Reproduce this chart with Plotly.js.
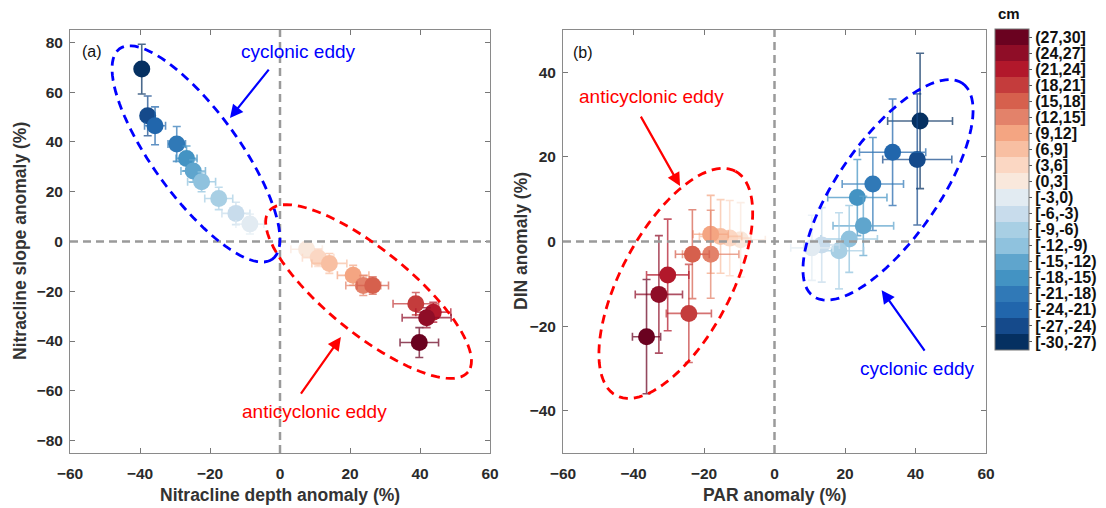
<!DOCTYPE html>
<html><head><meta charset="utf-8">
<script src="https://cdn.plot.ly/plotly-3.0.1.min.js"></script>
<style>html,body{margin:0;padding:0;background:#fff}</style>
</head><body><div id="chart" style="width:1106px;height:508px"></div>
<script>
// ---- DATA ----
const binLabels = ['[-30,-27)','[-27,-24)','[-24,-21)','[-21,-18)','[-18,-15)','[-15,-12)','[-12,-9)','[-9,-6)','[-6,-3)','[-3,0)',
                   '(0,3]','(3,6]','(6,9]','(9,12]','(12,15]','(15,18]','(18,21]','(21,24]','(24,27]','(27,30]'];
const binMid = [-28.5,-25.5,-22.5,-19.5,-16.5,-13.5,-10.5,-7.5,-4.5,-1.5,1.5,4.5,7.5,10.5,13.5,16.5,19.5,22.5,25.5,28.5];
const binColors = ['#053061','#154a8b','#2166ac','#3079b7','#4393c3','#5fa5cd','#8fc2de','#a8cfe4','#c8dcec','#e2ebf2',
                   '#f9e8dc','#fbd7c3','#f8bfa2','#f4a582','#e3826a','#d6604d','#c43c3c','#b2182b','#8f0d27','#6a0220'];

// Panel (a): Nitracline depth anomaly (%) vs Nitracline slope anomaly (%)
const depthAnom    = [-39.5,-37.8,-35.7,-29.5,-26.7,-24.8,-22.4,-17.5,-12.6,-8.6, 7.6,10.9,14.1,20.9,23.8,26.5,38.8,43.8,41.9,39.8];
const slopeAnom    = [69.3,50.5,46.5,39.2,33.4,28.3,24.0,17.3,11.3,7.0, -3.1,-6.5,-8.8,-13.6,-17.7,-17.7,-25.0,-28.4,-30.6,-40.6];
const depthErr     = [1.5,2,3,2.5,3,3.5,4,4,4,4, 4.5,4.5,5,4.5,5,4.5,6.5,5,7,5.5];
const slopeErr     = [10,8,7.6,7,5,4.5,4,4.5,4.5,4, 3,3.5,4,4,4,3.5,4.5,4,4,6];

// Panel (b): PAR anomaly (%) vs DIN anomaly (%)
const parAnom      = [41.3,40.5,33.5,27.9,23.5,25.2,21.2,18.3,13.4,10.6, -9.6,-12.7,-15.3,-18.1,-18.1,-23.3,-24.3,-30.3,-32.8,-36.3];
const dinAnom      = [28.5,19.4,21.1,13.6,10.4,3.7,0.6,-2.2,-0.8,-1.5, 0.4,0.8,1.2,1.7,-3.0,-3.0,-17.0,-7.9,-12.5,-22.5];
const parErr       = [9.2,9.8,9.4,8.7,8.4,8.6,8,7,5,6, 7,6,6,5,8,4.8,6.4,6,6.7,4];
const dinErr       = [16,15.5,12.6,11,9,7,7.9,9,8.8,7.7, 8.8,8.9,8.7,9.2,10.4,10.5,11.6,13.2,13.9,13.5];

const xTicks = [-60,-40,-20,0,20,40,60];
const yTicksA = [-80,-60,-40,-20,0,20,40,60,80];
const yTicksB = [-40,-20,0,20,40];

// ---- LAYOUT GEOMETRY ----
const W = 1106, H = 508;
const FONT = "'Liberation Sans', Arial, sans-serif";
const axA = {x0:70, x1:490}, axB = {x0:563, x1:986}, yPx = {top:30, bot:453};
const rangeXA=[-60,60], rangeYA=[-85,85], rangeXB=[-60,60], rangeYB=[-50,50];
const sxA = (axA.x1-axA.x0)/(rangeXA[1]-rangeXA[0]), syA = (yPx.bot-yPx.top)/(rangeYA[1]-rangeYA[0]);
const sxB = (axB.x1-axB.x0)/(rangeXB[1]-rangeXB[0]), syB = (yPx.bot-yPx.top)/(rangeYB[1]-rangeYB[0]);

function rgba(hex, a){
  const n = parseInt(hex.slice(1),16);
  return 'rgba('+((n>>16)&255)+','+((n>>8)&255)+','+(n&255)+','+a+')';
}

const traces = [];
function addPanel(xs, ys, exs, eys, xa, ya){
  for(let i=0;i<xs.length;i++){
    const ec = rgba(binColors[i], 0.72);
    traces.push({type:'scatter', mode:'markers', x:[xs[i]], y:[ys[i]], xaxis:xa, yaxis:ya,
      marker:{size:17, color:binColors[i], line:{width:0}},
      error_x:{type:'data', array:[exs[i]], visible:true, color:ec, thickness:1.6, width:4},
      error_y:{type:'data', array:[eys[i]], visible:true, color:ec, thickness:1.6, width:4},
      name:binLabels[i], showlegend:false});
  }
}
addPanel(depthAnom, slopeAnom, depthErr, slopeErr, 'x', 'y');
addPanel(parAnom, dinAnom, parErr, dinErr, 'x2', 'y2');

// colorbar carrier (off-range point)
const cs = [];
binColors.forEach((c,i)=>{ cs.push([i/20, c]); cs.push([(i+1)/20, c]); });
traces.push({type:'scatter', mode:'markers', x:[0], y:[-500], xaxis:'x', yaxis:'y', hoverinfo:'skip', showlegend:false,
  marker:{size:1, color:[0], cmin:-30, cmax:30, colorscale:cs, showscale:true,
    colorbar:{thickness:34, thicknessmode:'pixels', len:321, lenmode:'pixels',
      x:995/W, xanchor:'left', y:1-29/H, yanchor:'top', xpad:0, ypad:0,
      outlinewidth:1, outlinecolor:'#777', tickvals:binMid, ticktext:binLabels,
      ticks:'outside', ticklen:3, tickcolor:'#555',
      tickfont:{family:FONT, size:16, color:'#111', weight:'bold'}}}});

// ellipse (decoration) path from centre (data), semi-axes (px), screen angle
function ellipsePath(cx, cy, a, b, deg, sx, sy){
  const th = deg*Math.PI/180, pts=[];
  for(let k=0;k<=96;k++){
    const t = 2*Math.PI*k/96;
    const dx = a*Math.cos(t)*Math.cos(th) - b*Math.sin(t)*Math.sin(th);
    const dy = a*Math.cos(t)*Math.sin(th) + b*Math.sin(t)*Math.cos(th);
    pts.push((cx+dx/sx).toFixed(3)+','+(cy-dy/sy).toFixed(3));
  }
  return 'M'+pts.join('L')+'Z';
}
const ellDash = '9px,6px';
const gline = {color:'#9a9a9a', width:2.5, dash:'8px,5px'};
const shapes = [
  {type:'line', xref:'x', yref:'paper', x0:0, x1:0, y0:1-yPx.bot/H, y1:1-yPx.top/H, line:gline},
  {type:'line', xref:'x', yref:'y', x0:-60, x1:60, y0:0, y1:0, line:gline},
  {type:'line', xref:'x2', yref:'paper', x0:0, x1:0, y0:1-yPx.bot/H, y1:1-yPx.top/H, line:gline},
  {type:'line', xref:'x2', yref:'y2', x0:-60, x1:60, y0:0, y1:0, line:gline},
  {type:'path', xref:'x', yref:'y', path:ellipsePath(-24.0, 35.2, 130, 43, 54, sxA, syA), line:{color:'#0000ff', width:2.8, dash:ellDash}},
  {type:'path', xref:'x', yref:'y', path:ellipsePath(25.3, -20.1, 128, 42, 39, sxA, syA), line:{color:'#ff0000', width:2.8, dash:ellDash}},
  {type:'path', xref:'x2', yref:'y2', path:ellipsePath(32.2, 12.2, 130, 50, -55, sxB, syB), line:{color:'#0000ff', width:2.8, dash:ellDash}},
  {type:'path', xref:'x2', yref:'y2', path:ellipsePath(-28.0, -9.9, 127, 55, -62, sxB, syB), line:{color:'#ff0000', width:2.8, dash:ellDash}}
];

const tf = {family:FONT, size:15.5, color:'#2a2a2a', weight:'bold'};
function ax(dom, rng, vals, anchor){
  return {domain:dom, range:rng, anchor:anchor, tickvals:vals, ticks:'inside', ticklen:5, tickcolor:'#777',
    showline:true, linecolor:'#8a8a8a', linewidth:1, mirror:'ticks', showgrid:false, zeroline:false,
    tickfont:tf, automargin:false, fixedrange:true};
}
const ydom = [1-yPx.bot/H, 1-yPx.top/H];
const tfont = {family:FONT, size:17.5, color:'#333', weight:'bold'};
function ann(o){ return Object.assign({showarrow:false, xanchor:'center', yanchor:'middle'}, o); }
const layout = {
  width:W, height:H, margin:{l:0,r:0,t:0,b:0}, paper_bgcolor:'#fff', plot_bgcolor:'#fff', showlegend:false,
  font:{family:FONT},
  xaxis: Object.assign(ax([axA.x0/W, axA.x1/W], rangeXA, xTicks, 'y'), {ticklabelstandoff:6}),
  yaxis: Object.assign(ax(ydom, rangeYA, yTicksA, 'x'), {ticklabelstandoff:3}),
  xaxis2: Object.assign(ax([axB.x0/W, axB.x1/W], rangeXB, xTicks, 'y2'), {ticklabelstandoff:6}),
  yaxis2: Object.assign(ax(ydom, rangeYB, yTicksB, 'x2'), {ticklabelstandoff:3}),
  shapes: shapes,
  annotations: [
    // axis titles
    ann({xref:'paper', yref:'paper', x:(axA.x0+axA.x1)/2/W, y:1-495/H, text:'Nitracline depth anomaly (%)', font:tfont}),
    ann({xref:'paper', yref:'paper', x:(axB.x0+axB.x1)/2/W, y:1-495/H, text:'PAR anomaly (%)', font:tfont}),
    ann({xref:'paper', yref:'paper', x:20/W, y:1-241/H, text:'Nitracline slope anomaly (%)', textangle:-90, font:tfont}),
    ann({xref:'paper', yref:'paper', x:521/W, y:1-241/H, text:'DIN anomaly (%)', textangle:-90, font:tfont}),
    // panel labels
    ann({xref:'x', yref:'y', x:-53.7, y:76.2, text:'(a)', font:{family:FONT, size:16, color:'#111'}}),
    ann({xref:'x2', yref:'y2', x:-54.3, y:44.8, text:'(b)', font:{family:FONT, size:16, color:'#111'}}),
    // colorbar unit
    ann({xref:'paper', yref:'paper', x:1009/W, y:1-14/H, text:'cm', font:{family:FONT, size:15, color:'#111', weight:'bold'}}),
    // eddy labels
    ann({xref:'x', yref:'y', x:5.3, y:76.2, text:'cyclonic eddy', font:{family:FONT, size:19, color:'#0000ff'}}),
    ann({xref:'x', yref:'y', x:9.9, y:-68.5, text:'anticyclonic eddy', font:{family:FONT, size:19, color:'#ff0000'}}),
    ann({xref:'x2', yref:'y2', x:-35, y:34.2, text:'anticyclonic eddy', font:{family:FONT, size:19, color:'#ff0000'}}),
    ann({xref:'x2', yref:'y2', x:40.6, y:-30.1, text:'cyclonic eddy', font:{family:FONT, size:19, color:'#0000ff'}}),
    // arrows
    {xref:'x', yref:'y', x:-14.3, y:49.6, ax:40, ay:-50, text:'', showarrow:true, arrowhead:2, arrowsize:1.2, arrowwidth:2.2, arrowcolor:'#0000ff', standoff:0},
    {xref:'x', yref:'y', x:17.4, y:-38.4, ax:-41, ay:58, text:'', showarrow:true, arrowhead:2, arrowsize:1.2, arrowwidth:2.2, arrowcolor:'#ff0000', standoff:0},
    {xref:'x2', yref:'y2', x:-26.8, y:13.1, ax:-40, ay:-71, text:'', showarrow:true, arrowhead:2, arrowsize:1.2, arrowwidth:2.2, arrowcolor:'#ff0000', standoff:0},
    {xref:'x2', yref:'y2', x:30.4, y:-11.5, ax:44, ay:62, text:'', showarrow:true, arrowhead:2, arrowsize:1.2, arrowwidth:2.2, arrowcolor:'#0000ff', standoff:0}
  ]
};
layout.shapes.forEach(s=>{ s.layer='above'; });
Plotly.newPlot('chart', traces, layout, {displayModeBar:false, staticPlot:true});
</script>
</body></html>
